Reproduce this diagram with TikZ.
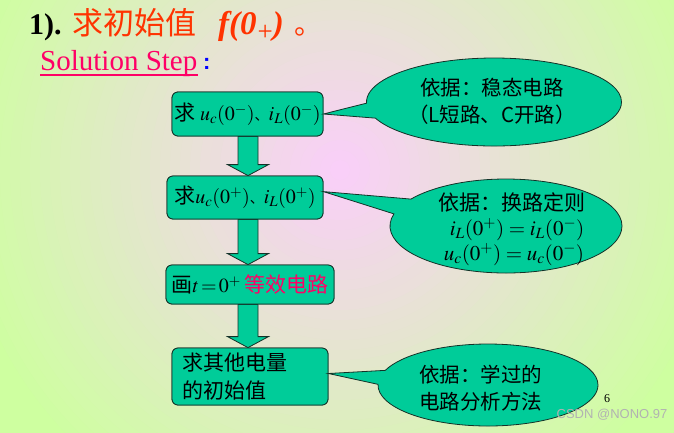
\documentclass[tikz,border=0pt]{standalone}
\usepackage{mathptmx}
\usepackage{fontspec}
\setmainfont{Liberation Serif}
\newfontfamily\cjk{Noto Sans CJK SC}
\newfontfamily\wmfont{Liberation Sans}
\usetikzlibrary{shapes.callouts,calc}
\definecolor{boxg}{RGB}{0,204,153}
\definecolor{edgec}{RGB}{20,50,40}
\definecolor{titler}{RGB}{255,51,0}
\definecolor{pinkt}{RGB}{255,0,102}
\definecolor{bgpink}{RGB}{250,206,250}
\definecolor{bggreen}{RGB}{206,255,160}
\tikzset{
  boxn/.style={draw=edgec, fill=boxg, line width=0.8pt, rounded corners=6pt, inner sep=0pt,
    font=\fontsize{21}{28}\selectfont\cjk},
  blk/.style={draw=edgec, fill=boxg, line width=0.8pt},
  callo/.style={ellipse callout, draw=edgec, fill=boxg, line width=0.8pt, inner sep=0pt,
    callout pointer arc=20},
  ctext/.style={font=\fontsize{20.5}{27}\selectfont\cjk, inner sep=0pt},
  plain/.style={inner sep=0pt}
}
\newcommand\smdun{{\fontsize{14}{14}\selectfont\cjk{}、}}
\newcommand\mth[1]{{\fontsize{20}{28}\selectfont$#1$}}
\newcommand\blkarrow[2]{%
  \filldraw[blk] let \p1=(#1.south), \p2=(#2.north) in
   (238pt,\y1) -- (258pt,\y1) -- (258pt,\y2+11pt) -- (268.5pt,\y2+11pt) -- (248pt,\y2)
   -- (227.5pt,\y2+11pt) -- (238pt,\y2+11pt) -- cycle;}
\begin{document}
\begin{tikzpicture}[x=1pt,y=-1pt]
\useasboundingbox (0,0) rectangle (674,432);
% background
\begin{scope}
\clip (0,0) rectangle (674,432);
\fill[bggreen] (0,0) rectangle (674,432);
\foreach \r in {440,430,...,10} {
  \pgfmathtruncatemacro\p{min(100,\r/3.9)}
  \fill[bggreen!\p!bgpink] (340,170) circle (\r);
}
\end{scope}
% title
\node[plain, anchor=base west, font=\fontsize{30}{32}\selectfont\bfseries] (t1) at (29,34) {1).};
\node[plain, anchor=base west, text=titler, font=\fontsize{31}{32}\selectfont\cjk] (t2) at (72,34) {求初始值};
\node[plain, anchor=base west, text=titler, font=\fontsize{33}{33}\selectfont\bfseries\itshape] (t3) at (218,34)
  {f(0\kern1pt\raisebox{-6pt}{\fontsize{27}{27}\selectfont\upshape\mdseries +})};
\node[plain, anchor=base west, text=titler, font=\fontsize{28}{32}\selectfont\cjk] (t4) at (294,34) {。};
\node[plain, anchor=base west, text=pinkt, font=\fontsize{29}{32}\selectfont] (ss) at (40,70) {Solution Step};
\draw[pinkt, line width=1.2pt] ([yshift=-5pt]ss.base west) -- ([yshift=-5pt]ss.base east);
\node[plain, anchor=base west, text=blue, font=\fontsize{22}{24}\selectfont\bfseries\wmfont] (colon) at (203,69) {:};
% boxes
\node[boxn, minimum width=151, minimum height=44] (b1) at (247.5,114) {求 \mth{u_c(0^-)}\smdun\mth{i_L(0^-)}};
\node[boxn, minimum width=156, minimum height=43] (b2) at (245,197.5) {求\mth{u_c(0^+)}\smdun\mth{i_L(0^+)}};
\node[boxn, minimum width=168, minimum height=39] (b3) at (250,284.5) {画\mth{t\!=\!0^+}\,{\color{pinkt}等效电路}};
\node[boxn, minimum width=156, minimum height=57, text width=136, align=left] (b4) at (250,376.5) {求其他电量\\的初始值};
% arrows
\blkarrow{b1}{b2}
\blkarrow{b2}{b3}
\blkarrow{b3}{b4}
% redraw boxes on top of arrows
\node[boxn, minimum width=151, minimum height=44] at (b1) {求 \mth{u_c(0^-)}\smdun\mth{i_L(0^-)}};
\node[boxn, minimum width=156, minimum height=43] at (b2) {求\mth{u_c(0^+)}\smdun\mth{i_L(0^+)}};
\node[boxn, minimum width=168, minimum height=39] at (b3) {画\mth{t\!=\!0^+}\,{\color{pinkt}等效电路}};
\node[boxn, minimum width=156, minimum height=57, text width=136, align=left] at (b4) {求其他电量\\的初始值};
% callouts
\node[callo, minimum width=255, minimum height=88, callout absolute pointer={(b1.east)}] (c1) at (494,102) {};
\node[ctext, align=center] (c1t) at (492,101) {依据：稳态电路\\（L短路、C开路）};
\node[callo, minimum width=232, minimum height=94, callout absolute pointer={(b2.north east)+(0,16)}] (c2) at (506,226) {};
\node[ctext, align=center, font=\fontsize{21}{25}\selectfont\cjk] (c2t) at (512,229)
  {依据：换路定则\\\hspace*{10pt}$i_L(0^+)=i_L(0^-)$\\\hspace*{4pt}$u_c(0^+)=u_c(0^-)$};
\node[callo, minimum width=220, minimum height=82, callout absolute pointer={(b4.east)+(0,-3)}] (c3) at (488,385) {};
\node[ctext, align=left, anchor=west] (c3t) at (419,388) {依据：学过的\\电路分析方法};
% page number and watermark
\node[plain, font=\fontsize{12}{12}\selectfont] (pg) at (607,399) {6};
\node[plain, text=gray!60, font=\fontsize{13}{13}\selectfont\wmfont] (wm) at (612,415) {CSDN @NONO.97};
\end{tikzpicture}
\end{document}
